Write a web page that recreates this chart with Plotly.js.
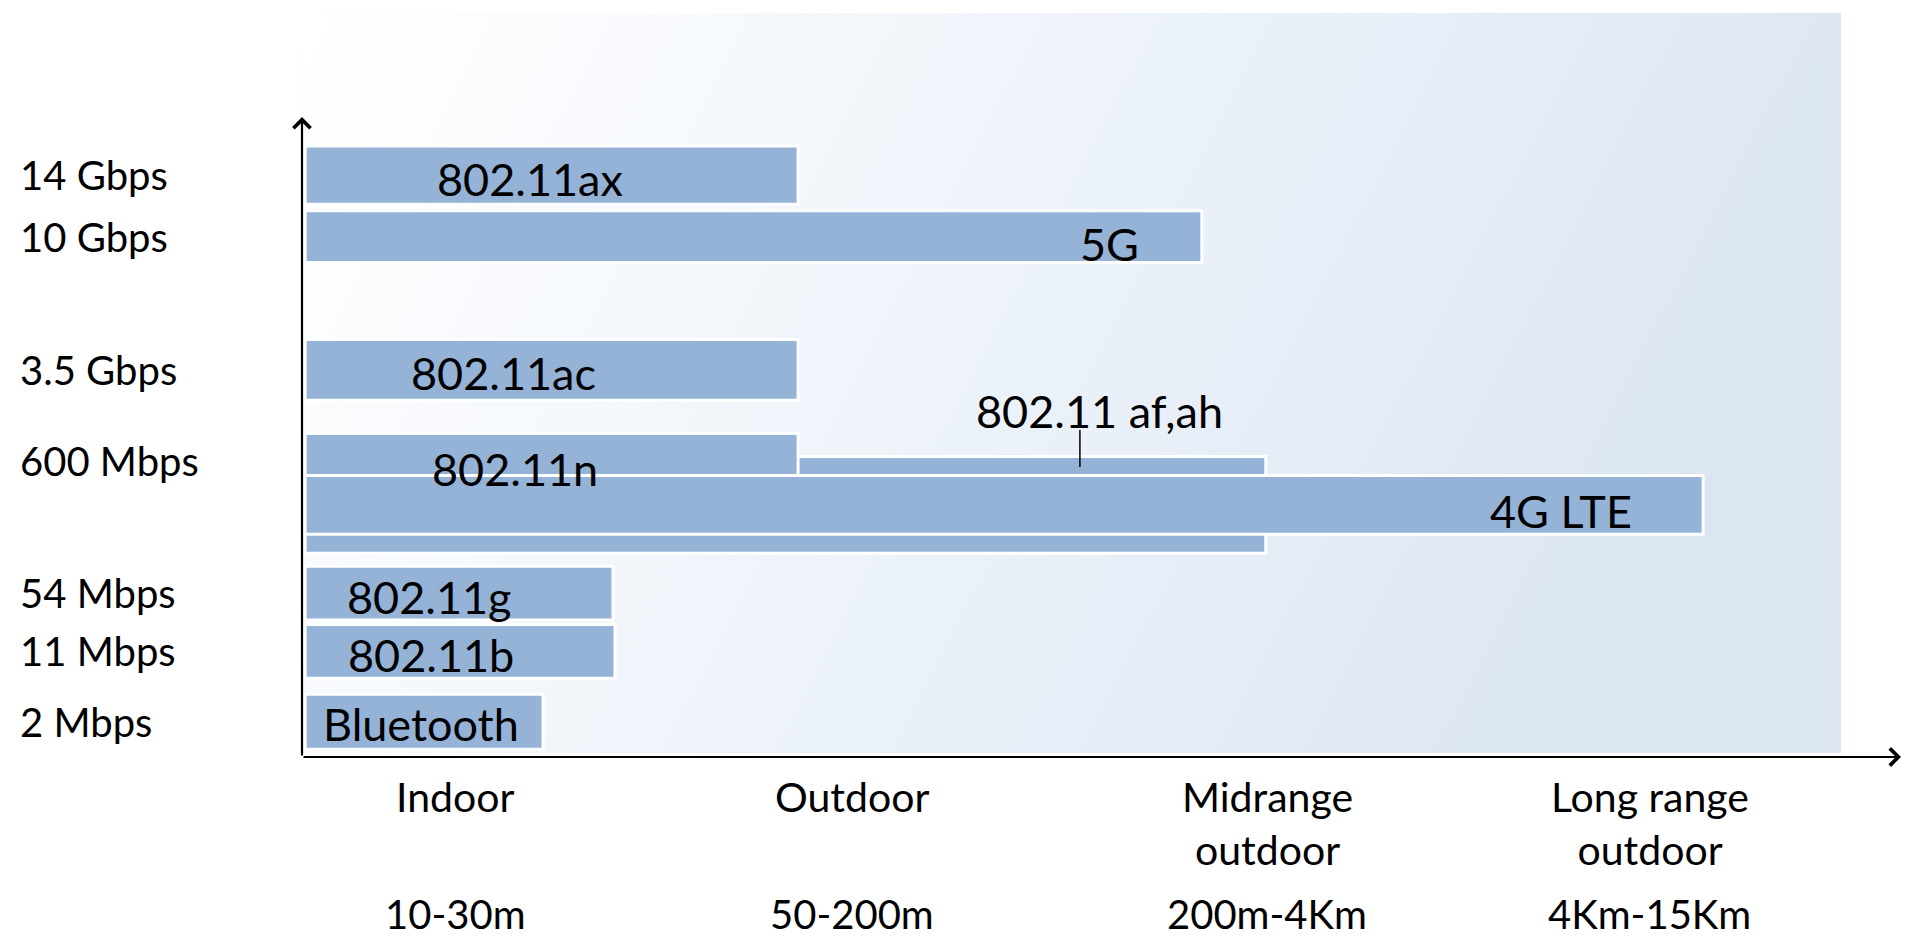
<!DOCTYPE html>
<html>
<head>
<meta charset="utf-8">
<script src="https://cdn.plot.ly/plotly-3.0.1.min.js"></script>
<style>
  html, body { margin: 0; padding: 0; background: #ffffff; }
  #chart { width: 1924px; height: 946px; }
</style>
</head>
<body>
<div id="chart"></div>
<script>
// ---------------- DATA ----------------
const techs = ["802.11ax", "5G", "802.11ac", "802.11n", "802.11 af,ah", "4G LTE", "802.11g", "802.11b", "Bluetooth"];
// reach along the range axis (0 = origin, 1 unit ≈ one range class)
const reach = [1.241, 2.251, 1.241, 1.241, 2.411, 3.505, 0.778, 0.783, 0.603];
// vertical row (data-rate rank) of each technology
const rowPos = [9.09, 8.13, 6.05, 4.62, 3.94, 3.94, 2.56, 1.65, 0.55];
// data-rate labels (empty = no label)
const speedLabels = ["14 Gbps", "10 Gbps", "3.5 Gbps", "600 Mbps", "", "", "54 Mbps", "11 Mbps", "2 Mbps"];
// range categories (x axis)
const categories = ["Indoor", "Outdoor", "Midrange<br>outdoor", "Long range<br>outdoor"];
const categoryPos = [0.383, 1.376, 2.414, 3.372];
const distances = ["10-30m", "50-200m", "200m-4Km", "4Km-15Km"];

// ---------------- STYLE ----------------
const FONT = "Lato, 'Open Sans', 'DejaVu Sans', sans-serif";
const barColor = "#95b3d7";
const barThickness = [0.91, 0.81, 0.95, 0.87, 1.51, 0.92, 0.84, 0.84, 0.86];
const barBase = 0.008;
const labelX = [0.570, 2.021, 0.503, 0.533, 1.996, 3.149, 0.318, 0.323, 0.298];
const labelY = [9.03, 8.02, 6.0, 4.5, 5.41, 3.84, 2.5, 1.59, 0.52];

const XMAX = 4, YMAX = 11.625;

function barTrace(idx) {
  return {
    type: "bar", orientation: "h",
    y: idx.map(i => rowPos[i]),
    x: idx.map(i => reach[i] - barBase),
    base: idx.map(() => barBase),
    width: idx.map(i => barThickness[i]),
    marker: { color: barColor, line: { color: "#ffffff", width: 3 } },
    text: idx.map(i => techs[i]),
    textposition: "none",
    hoverinfo: "text", showlegend: false
  };
}
const backIdx = techs.map((t, i) => i).filter(i => techs[i] === "802.11 af,ah");
const frontIdx = techs.map((t, i) => i).filter(i => techs[i] !== "802.11 af,ah");

const annotations = [];
// technology labels
techs.forEach((t, i) => {
  annotations.push({
    x: labelX[i], y: labelY[i], xref: "x", yref: "y",
    text: t, showarrow: false, xanchor: "center", yanchor: "middle",
    font: { family: FONT, size: 45, color: "#000000" }
  });
});
// data-rate labels
speedLabels.forEach((s, i) => {
  if (!s) return;
  annotations.push({
    x: -0.1776, y: rowPos[i], xref: "paper", yref: "y",
    text: s, showarrow: false, xanchor: "left", yanchor: "middle",
    font: { family: FONT, size: 40, color: "#000000" }
  });
});
// range categories
categories.forEach((c, i) => {
  annotations.push({
    x: categoryPos[i], y: -0.0175, xref: "x", yref: "paper",
    text: c, showarrow: false, xanchor: "center", yanchor: "top",
    font: { family: FONT, size: 41, color: "#000000" }
  });
  annotations.push({
    x: categoryPos[i], y: -0.211, xref: "x", yref: "paper",
    text: distances[i], showarrow: false, xanchor: "center", yanchor: "middle",
    font: { family: FONT, size: 40, color: "#000000" }
  });
});
// axis arrows
annotations.push({
  x: 0, y: 10.0, ax: 0, ay: 0, xref: "x", yref: "y", axref: "x", ayref: "y",
  text: "", showarrow: true, arrowhead: 4, arrowsize: 1.5, arrowwidth: 2.2,
  arrowcolor: "#000000", standoff: 0, startstandoff: 0
});
annotations.push({
  x: XMAX, y: 0, ax: 0, ay: 0, xref: "x", yref: "y", axref: "x", ayref: "y",
  text: "", showarrow: true, arrowhead: 4, arrowsize: 1.5, arrowwidth: 2.2,
  arrowcolor: "#000000", standoff: 0, startstandoff: 0
});

// gradient background panel (drawn beneath the traces)
const gradSvg = "<svg xmlns='http://www.w3.org/2000/svg' width='400' height='200' viewBox='0 0 400 200' preserveAspectRatio='none'>" +
  "<defs><linearGradient id='g' x1='0' y1='0' x2='1' y2='0.25'>" +
  "<stop offset='0' stop-color='#ffffff'/><stop offset='0.35' stop-color='#f3f7fc'/><stop offset='1' stop-color='#dce6f2'/>" +
  "</linearGradient></defs><rect x='0' y='0' width='400' height='200' fill='url(#g)'/></svg>";

const layout = {
  width: 1924, height: 946,
  margin: { l: 302, r: 23, t: 13, b: 189 },
  paper_bgcolor: "#ffffff", plot_bgcolor: "rgba(0,0,0,0)",
  barmode: "overlay",
  font: { family: FONT, size: 38, color: "#000000" },
  xaxis: { range: [0, XMAX], showgrid: false, zeroline: false, showticklabels: false, showline: false, fixedrange: true },
  yaxis: { range: [0, YMAX], showgrid: false, zeroline: false, showticklabels: false, showline: false, fixedrange: true },
  images: [{
    source: "data:image/svg+xml;charset=utf-8," + encodeURIComponent(gradSvg),
    xref: "x", yref: "y", x: 0, y: YMAX, sizex: 3.85, sizey: YMAX - 0.0625,
    xanchor: "left", yanchor: "top", sizing: "stretch", layer: "below"
  }],
  shapes: [{
    type: "line", xref: "x", yref: "y",
    x0: 1.946, x1: 1.946, y0: 5.11, y1: 4.53,
    line: { color: "#000000", width: 1.5 }
  }],
  annotations: annotations,
  showlegend: false
};

Plotly.newPlot("chart", [barTrace(backIdx), barTrace(frontIdx)], layout, { staticPlot: true, displayModeBar: false });
</script>
</body>
</html>
